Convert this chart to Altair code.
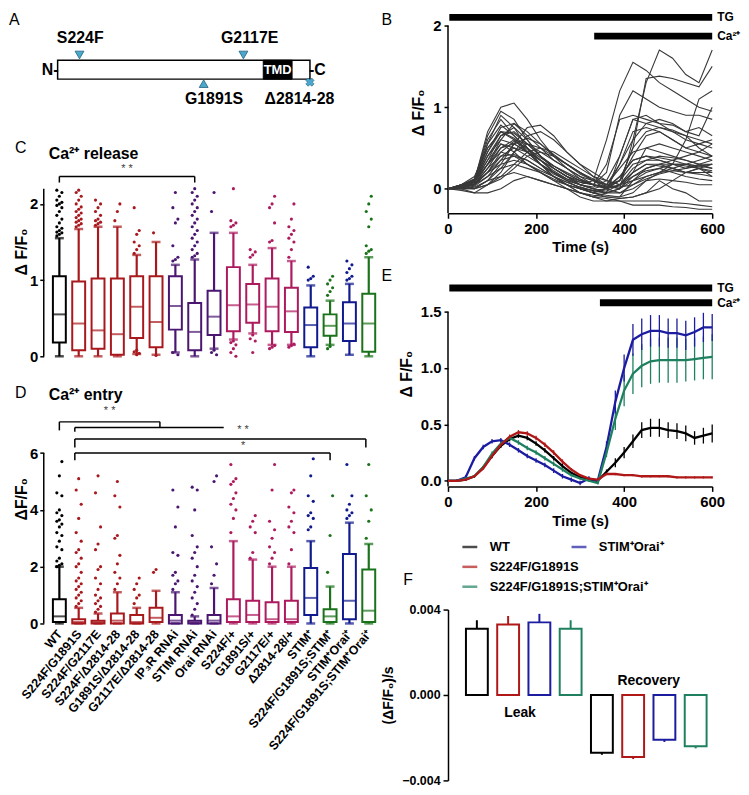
import json
import altair as alt
import pandas as pd

FONT = "Liberation Sans"

# ---------------- Panel A : protein schematic ----------------
a_mut_names = ["S224F", "G2117E", "G1891S", "Δ2814-28"]
a_mut_pos = [247, 2090, 1643, 2838]
a_mut_side = [1, 1, -1, -1]
a_mut_shape = ["triangle-down", "triangle-down", "triangle-up", "cross"]
a_label_pos = [255, 2160, 1760, 2720]
a_protein = [1, 2838]
a_tmd = [2313, 2637]

# ---------------- Panels C / D : box plots ----------------
names = ["WT", "S224F/G1891S", "S224F/G2117E", "S224F/Δ2814-28", "G1891S/Δ2814-28",
         "G2117E/Δ2814-28", "IP₃R RNAi", "STIM RNAi", "Orai RNAi", "S224F/+", "G1891S/+",
         "G2117E/+", "Δ2814-28/+", "STIM⁺", "S224F/G1891S;STIM⁺", "STIM⁺Orai⁺",
         "S224F/G1891S;STIM⁺Orai⁺"]
groups = ["wt", "mut", "mut", "mut", "mut", "mut", "rnai", "rnai", "rnai",
          "het", "het", "het", "het", "stim", "rescue", "stim", "rescue"]
grp_keys = ["wt", "mut", "rnai", "het", "stim", "rescue"]
grp_colors = ["#000000", "#a8191e", "#4a1670", "#ad1a5e", "#101a8e", "#1a721a"]

c_q1 = [0.18, 0.08, 0.10, 0.02, 0.24, 0.12, 0.35, 0.08, 0.28, 0.33, 0.44, 0.33, 0.32, 0.12, 0.27, 0.20, 0.06]
c_med = [0.55, 0.43, 0.34, 0.29, 0.65, 0.45, 0.66, 0.32, 0.52, 0.67, 0.68, 0.65, 0.59, 0.41, 0.40, 0.43, 0.43]
c_q3 = [1.05, 0.98, 1.02, 1.02, 1.05, 1.05, 1.05, 0.70, 0.86, 1.17, 0.95, 1.02, 0.90, 0.64, 0.55, 0.71, 0.82]
c_lo = [0.0, 0.0, 0.0, 0.0, 0.03, 0.02, 0.05, 0.0, 0.10, 0.22, 0.30, 0.15, 0.15, 0.0, 0.15, 0.02, 0.0]
c_hi = [1.55, 1.67, 1.70, 1.70, 1.33, 1.50, 1.20, 1.27, 1.62, 1.62, 1.20, 1.42, 1.25, 0.93, 0.73, 0.95, 1.30]
c_out = [
    [1.58, 1.6, 1.62, 1.63, 1.65, 1.68, 1.7, 1.75, 1.8, 1.85, 1.9, 1.95, 1.98, 2.0, 2.02, 2.05, 2.1, 2.15, 2.18],
    [1.7, 1.72, 1.74, 1.76, 1.78, 1.8, 1.82, 1.85, 1.88, 1.9, 1.93, 1.96, 2.0, 2.05, 2.1, 2.15, 2.18],
    [1.72, 1.74, 1.76, 1.78, 1.8, 1.85, 1.9, 1.95, 2.0, 2.05],
    [1.78, 1.9, 2.0],
    [1.35, 1.4, 1.45, 1.5, 1.6, 1.65, 1.95, 0.02, 0.04, 0.06, 0.08],
    [1.62, 0.01],
    [1.25, 1.27, 1.3, 1.45, 1.75, 1.8, 1.95, 2.15, 0.02, 0.05],
    [1.3, 1.32, 1.35, 1.4, 1.45, 1.5, 1.55, 1.6, 1.65, 1.7, 1.75, 1.8, 1.85, 1.9, 1.95, 2.0, 2.05, 2.1, 2.15, 2.2],
    [1.9, 2.15, 0.02, 0.05, 0.08],
    [1.7, 1.72, 1.75, 1.78, 2.2, 0.0, 0.05, 0.1, 0.15, 0.18, 0.2],
    [1.3, 1.33, 1.37, 1.4, 0.05, 0.2, 0.23, 0.28],
    [1.5, 1.52, 1.75, 1.95, 2.0, 2.1, 0.1, 0.12, 0.14],
    [1.3, 1.4, 1.5, 1.55, 1.6, 1.65, 1.7, 1.8, 2.0, 0.12, 0.14, 0.16],
    [1.0, 1.02, 1.05, 1.17],
    [0.8, 0.85, 0.9, 0.95, 1.0, 1.05, 0.1, 0.13],
    [1.0, 1.02, 1.05, 1.1, 1.15, 1.2, 1.25],
    [1.35, 1.38, 1.4, 1.45, 1.7, 1.8, 1.9, 2.0, 2.1],
]

d_q1 = [0.05, 0.0, 0.0, 0.0, 0.0, 0.05, 0.0, 0.0, 0.0, 0.05, 0.05, 0.05, 0.05, 0.30, 0.05, 0.15, 0.05]
d_med = [0.25, 0.05, 0.05, 0.10, 0.05, 0.20, 0.10, 0.05, 0.10, 0.25, 0.30, 0.15, 0.15, 0.90, 0.25, 0.80, 0.45]
d_q3 = [0.85, 0.15, 0.10, 0.35, 0.30, 0.55, 0.30, 0.10, 0.30, 0.85, 0.80, 0.75, 0.80, 1.95, 0.50, 2.45, 1.90]
d_lo = [0.0, 0.0, 0.0, 0.0, 0.0, 0.0, 0.0, 0.0, 0.0, 0.0, 0.0, 0.0, 0.0, 0.0, 0.0, 0.0, 0.0]
d_hi = [2.0, 0.55, 0.35, 1.10, 0.55, 1.15, 1.10, 0.25, 1.25, 2.90, 2.25, 2.00, 2.00, 2.90, 1.30, 3.55, 2.80]
d_out = [
    [2.0, 2.05, 2.1, 2.2, 2.3, 2.6, 2.7, 2.9, 3.1, 3.2, 3.4, 3.5, 3.6, 3.65, 3.8, 3.9, 4.0, 4.5, 4.6, 5.2, 5.7],
    [0.6, 0.7, 0.8, 0.9, 1.0, 1.1, 1.2, 1.3, 1.4, 1.5, 1.6, 1.8, 2.0, 2.1, 2.3, 2.5, 2.6, 2.9, 3.2, 3.7, 4.2, 4.7, 5.1],
    [0.4, 0.5, 0.6, 0.7, 0.8, 0.9, 1.0, 1.2, 1.4, 1.6, 1.9, 2.0, 2.6, 2.8, 3.4, 4.6, 5.2],
    [1.2, 1.4, 1.6, 1.8, 2.1, 2.4, 3.0, 3.1, 4.1, 4.5, 5.0],
    [0.7, 0.9, 1.0, 1.2, 1.4, 1.6],
    [1.8, 1.9],
    [1.2, 1.4, 1.5, 1.7, 1.8, 2.4, 2.5, 3.4, 4.1, 4.7],
    [0.3, 0.5, 0.7, 0.9, 1.1, 1.3, 1.5, 1.7, 2.0, 2.3, 2.5, 2.7, 3.1, 4.0, 4.7, 4.8],
    [1.4, 1.7, 2.1, 2.7, 5.0, 5.2],
    [3.2, 3.7, 4.0, 4.2, 4.4, 4.6, 4.9, 5.0, 5.1, 5.6],
    [2.3, 2.5, 3.2, 3.4, 3.6, 3.8],
    [2.1, 2.3, 2.5, 2.7, 3.0, 3.3, 3.6, 4.7, 5.6],
    [2.1, 2.6, 3.2, 3.4, 3.6, 3.9, 4.1, 4.6, 4.7],
    [3.3, 3.4, 3.7, 3.8, 3.9, 4.3, 4.5, 5.2, 5.8],
    [1.8, 3.1, 4.5],
    [3.7, 3.8, 3.9, 4.0, 4.2, 4.5, 5.6],
    [3.0, 3.6, 4.0, 4.5, 5.6],
]

# ---------------- Panel B : single-cell traces ----------------
b_time = [0, 30, 60, 90, 120, 150, 180, 210, 240, 270, 300, 330, 360, 390, 420, 450, 480, 510, 540, 570, 600]
b_traces = [
    [0, 0.03, 0.08, 0.55, 0.9, 0.75, 0.5, 0.3, 0.18, 0.1, 0.05, 0.1, 0.6, 1.2, 1.55, 1.45, 1.3, 1.2, 1.1, 1.0, 0.95],
    [0, 0.02, 0.1, 0.7, 1.0, 1.05, 0.85, 0.6, 0.4, 0.25, 0.12, 0.05, 0.2, 0.9, 1.2, 1.1, 1.0, 0.95, 0.9, 0.9, 0.85],
    [0, 0.05, 0.05, 0.3, 0.6, 0.8, 0.7, 0.55, 0.4, 0.3, 0.2, 0.1, 0.05, 0.0, 0.6, 1.3, 1.7, 1.6, 1.4, 1.3, 1.7],
    [0, 0.02, 0.0, 0.1, 0.3, 0.55, 0.75, 0.78, 0.65, 0.45, 0.3, 0.15, 0.05, 0.1, 0.5, 1.35, 1.38, 1.35, 1.3, 1.25, 1.5],
    [0, 0.05, 0.15, 0.5, 0.7, 0.6, 0.45, 0.3, 0.15, 0.05, -0.05, -0.1, -0.05, 0.4, 0.85, 0.8, 0.75, 0.7, 0.65, 0.5, 0.4],
    [0, 0.03, 0.1, 0.4, 0.65, 0.75, 0.6, 0.4, 0.25, 0.15, 0.05, 0.0, 0.05, 0.3, 0.7, 0.75, 0.7, 0.6, 0.5, 0.55, 0.6],
    [0, 0.0, -0.05, 0.05, 0.2, 0.45, 0.65, 0.7, 0.6, 0.45, 0.3, 0.2, 0.1, 0.05, 0.2, 0.5, 0.55, 0.5, 0.45, 0.4, 0.35],
    [0, 0.02, 0.08, 0.3, 0.5, 0.55, 0.45, 0.3, 0.2, 0.1, 0.0, -0.05, -0.1, -0.1, 0.1, 0.25, 0.3, 0.3, 0.25, 0.3, 0.3],
    [0, 0.05, 0.12, 0.6, 0.85, 0.65, 0.45, 0.3, 0.15, 0.05, 0.0, -0.05, 0.0, 0.3, 0.6, 0.8, 0.85, 0.8, 0.7, 0.65, 1.0],
    [0, 0.0, 0.05, 0.2, 0.4, 0.5, 0.45, 0.35, 0.25, 0.15, 0.05, 0.0, -0.05, 0.0, 0.2, 0.3, 0.3, 0.25, 0.2, 0.25, 0.2],
    [0, 0.03, 0.1, 0.35, 0.55, 0.45, 0.3, 0.2, 0.1, 0.0, -0.1, -0.15, -0.15, -0.12, -0.1, -0.05, 0.0, 0.1, 0.2, 0.25, 0.3],
    [0, -0.02, -0.05, -0.05, 0.0, 0.1, 0.15, 0.1, 0.05, 0.0, -0.05, -0.1, -0.12, -0.15, -0.15, -0.15, -0.15, -0.17, -0.18, -0.2, -0.22],
    [0, 0.0, 0.0, 0.1, 0.15, 0.2, 0.15, 0.1, 0.05, 0.0, -0.05, -0.08, -0.1, -0.12, -0.1, -0.05, 0.1, 0.0, -0.05, -0.15, -0.15],
    [0, 0.05, 0.1, 0.45, 0.75, 0.8, 0.65, 0.5, 0.35, 0.25, 0.15, 0.1, 0.05, 0.25, 0.45, 0.5, 0.45, 0.4, 0.35, 0.3, 0.25],
    [0, 0.02, 0.05, 0.25, 0.5, 0.6, 0.55, 0.45, 0.35, 0.25, 0.15, 0.05, 0.0, 0.05, 0.2, 0.3, 0.28, 0.25, 0.2, 0.2, 0.2],
    [0, 0.04, 0.12, 0.55, 0.78, 0.65, 0.5, 0.35, 0.2, 0.1, 0.05, 0.02, 0.1, 0.4, 0.85, 0.9, 0.8, 0.7, 0.6, 0.55, 0.5],
    [0, 0.02, 0.06, 0.2, 0.35, 0.4, 0.35, 0.25, 0.15, 0.05, -0.05, -0.1, -0.15, -0.15, -0.2, -0.2, -0.2, -0.22, -0.23, -0.25, -0.25],
    [0, 0.03, 0.08, 0.4, 0.6, 0.55, 0.45, 0.35, 0.25, 0.15, 0.1, 0.05, 0.02, 0.1, 0.3, 0.35, 0.35, 0.3, 0.3, 0.25, 0.15],
    [0, 0.01, 0.0, 0.05, 0.15, 0.3, 0.45, 0.5, 0.45, 0.35, 0.25, 0.15, 0.1, 0.05, 0.15, 0.25, 0.3, 0.35, 0.4, 0.45, 0.55],
    [0, 0.05, 0.1, 0.3, 0.45, 0.4, 0.3, 0.2, 0.1, 0.05, 0.0, -0.02, 0.0, 0.15, 0.35, 0.4, 0.38, 0.35, 0.3, 0.28, 0.25],
    [0, 0.02, 0.05, 0.2, 0.3, 0.35, 0.3, 0.22, 0.15, 0.08, 0.02, -0.02, -0.05, -0.05, 0.05, 0.15, 0.2, 0.22, 0.2, 0.18, 0.15],
    [0, 0.03, 0.1, 0.5, 0.7, 0.68, 0.55, 0.4, 0.28, 0.18, 0.1, 0.05, 0.0, 0.1, 0.4, 0.65, 0.7, 0.6, 0.5, 0.45, 0.4],
    [0, 0.0, 0.02, 0.1, 0.25, 0.45, 0.55, 0.5, 0.4, 0.3, 0.2, 0.12, 0.05, 0.02, 0.05, 0.12, 0.18, 0.22, 0.25, 0.28, 0.3],
    [0, 0.02, 0.05, 0.15, 0.25, 0.3, 0.25, 0.2, 0.12, 0.05, 0.0, -0.05, -0.08, -0.1, -0.05, 0.1, 0.12, 0.1, 0.08, 0.05, 0.05],
    [0, 0.04, 0.1, 0.65, 0.95, 0.85, 0.6, 0.4, 0.25, 0.15, 0.08, 0.05, 0.3, 0.85, 0.9, 0.85, 0.8, 0.78, 0.7, 0.75, 0.65],
    [0, 0.02, 0.08, 0.35, 0.65, 0.7, 0.55, 0.4, 0.28, 0.18, 0.1, 0.05, 0.02, 0.15, 0.35, 0.4, 0.35, 0.3, 0.3, 0.28, 0.3],
    [0, 0.01, 0.03, 0.15, 0.35, 0.55, 0.62, 0.55, 0.42, 0.3, 0.18, 0.1, 0.03, 0.0, 0.1, 0.2, 0.25, 0.3, 0.28, 0.25, 0.22],
    [0, 0.03, 0.1, 0.45, 0.7, 0.62, 0.48, 0.35, 0.22, 0.12, 0.05, 0.0, -0.03, 0.05, 0.25, 0.35, 0.4, 0.38, 0.35, 0.3, 0.35],
    [0, 0.0, 0.0, 0.05, 0.12, 0.25, 0.4, 0.45, 0.4, 0.3, 0.2, 0.1, 0.0, -0.05, 0.0, 0.1, 0.2, 0.25, 0.3, 0.35, 0.4],
    [0, 0.02, 0.06, 0.25, 0.4, 0.42, 0.35, 0.25, 0.15, 0.08, 0.02, -0.03, -0.05, 0.0, 0.15, 0.22, 0.25, 0.2, 0.15, 0.12, 0.1],
    [0, 0.03, 0.08, 0.3, 0.55, 0.5, 0.4, 0.3, 0.2, 0.12, 0.08, 0.05, 0.0, 0.05, 0.1, 0.15, 0.2, 0.3, 0.6, 1.1, 1.2],
    [0, 0.02, 0.05, 0.2, 0.45, 0.58, 0.5, 0.38, 0.28, 0.2, 0.12, 0.05, 0.02, 0.1, 0.5, 0.7, 0.75, 0.72, 0.65, 0.6, 0.55],
]

# ---------------- Panel E : mean traces ----------------
e_time = [0, 20, 40, 60, 80, 100, 120, 140, 160, 180, 200, 220, 240, 260, 280, 300,
          320, 340, 360, 380, 400, 420, 440, 460, 480, 500, 520, 540, 560, 580, 600]
e_series = ["WT", "S224F/G1891S", "S224F/G1891S;STIM⁺Orai⁺", "STIM⁺Orai⁺"]
e_colors = ["#000000", "#b01818", "#1f8060", "#1c1ca0"]
e_wt = [0, 0, 0.01, 0.04, 0.12, 0.22, 0.31, 0.37, 0.40, 0.38, 0.33, 0.27, 0.20, 0.13, 0.07, 0.03,
        0.01, 0.0, 0.08, 0.16, 0.25, 0.35, 0.45, 0.47, 0.47, 0.45, 0.44, 0.42, 0.38, 0.40, 0.42]
e_wt_sem = [0.01, 0.01, 0.01, 0.01, 0.01, 0.02, 0.02, 0.02, 0.02, 0.02, 0.02, 0.02, 0.02, 0.02, 0.01, 0.01,
            0.01, 0.01, 0.02, 0.04, 0.05, 0.06, 0.07, 0.08, 0.08, 0.07, 0.07, 0.07, 0.06, 0.07, 0.08]
e_mut = [0, 0, 0.01, 0.04, 0.11, 0.22, 0.32, 0.39, 0.43, 0.42, 0.38, 0.32, 0.25, 0.17, 0.10, 0.05,
         0.02, 0.01, 0.06, 0.06, 0.05, 0.05, 0.04, 0.04, 0.04, 0.04, 0.03, 0.03, 0.03, 0.03, 0.03]
e_mut_sem = [0.0, 0.01, 0.01, 0.01, 0.01, 0.01, 0.02, 0.02, 0.02, 0.02, 0.02, 0.02, 0.02, 0.02, 0.01, 0.01,
             0.01, 0.01, 0.01, 0.01, 0.01, 0.01, 0.01, 0.01, 0.01, 0.01, 0.01, 0.01, 0.01, 0.01, 0.01]
e_resc = [0, 0, 0.02, 0.04, 0.12, 0.24, 0.33, 0.38, 0.34, 0.29, 0.25, 0.20, 0.15, 0.10, 0.05, 0.02,
          0.0, -0.02, 0.25, 0.55, 0.8, 0.95, 1.02, 1.06, 1.07, 1.07, 1.07, 1.07, 1.08, 1.09, 1.10]
e_resc_sem = [0.0, 0.01, 0.01, 0.01, 0.01, 0.02, 0.02, 0.02, 0.02, 0.02, 0.02, 0.02, 0.02, 0.02, 0.01, 0.01,
              0.01, 0.01, 0.04, 0.1, 0.14, 0.18, 0.19, 0.2, 0.2, 0.2, 0.2, 0.19, 0.19, 0.19, 0.2]
e_so = [0, 0, 0.03, 0.2, 0.3, 0.35, 0.36, 0.32, 0.27, 0.22, 0.18, 0.14, 0.09, 0.04, 0.01, -0.02,
        0.02, 0.0, 0.3, 0.7, 1.0, 1.25, 1.3, 1.33, 1.33, 1.31, 1.31, 1.29, 1.32, 1.36, 1.36]
e_so_sem = [0.0, 0.01, 0.02, 0.02, 0.02, 0.02, 0.02, 0.02, 0.02, 0.02, 0.02, 0.02, 0.02, 0.02, 0.02, 0.02,
            0.02, 0.02, 0.05, 0.1, 0.12, 0.14, 0.14, 0.14, 0.14, 0.13, 0.13, 0.13, 0.13, 0.13, 0.12]

# ---------------- Panel F : leak / recovery rates ----------------
f_idx = [1, 2, 3, 4, 5, 6, 7, 8]
f_series = ["WT", "S224F/G1891S", "STIM⁺Orai⁺", "S224F/G1891S;STIM⁺Orai⁺",
            "WT", "S224F/G1891S", "STIM⁺Orai⁺", "S224F/G1891S;STIM⁺Orai⁺"]
f_val = [0.0031, 0.0033, 0.0034, 0.0031, -0.0027, -0.0029, -0.0021, -0.0024]
f_err = [0.0004, 0.0004, 0.0004, 0.0004, 0.0001, 0.0001, 0.0001, 0.0001]

# legend rows
leg_labels = ["WT", "STIM⁺Orai⁺", "S224F/G1891S", "S224F/G1891S;STIM⁺Orai⁺"]
leg_col = [0, 1, 0, 0]
leg_row = [0, 0, 1, 2]

# one colour scale shared by every panel (concatenated charts share scales)
all_scale = alt.Scale(domain=grp_keys + e_series, range=grp_colors + e_colors)


def tdf(xs, ys, texts):
    return pd.DataFrame({"x": xs, "y": ys, "text": texts})


def yaxis(values, title, fmt=None, size=15, tpad=6, tsize=4, lpad=3):
    kw = dict(values=values, domain=False, tickSize=tsize, tickWidth=1.5, title=title,
              labelFontSize=size, titleFontSize=16, labelPadding=lpad, titlePadding=tpad, grid=False)
    if fmt:
        kw["format"] = fmt
    return alt.Axis(**kw)


# ======== Panel A ========
xa_s = alt.Scale(domain=[-155, 3642])
ya_s = alt.Scale(domain=[-3.19, 3.08])


def XA(f):
    return alt.X(f, scale=xa_s, axis=None)


def YA(f):
    return alt.Y(f, scale=ya_s, axis=None)


prot_df = pd.DataFrame({"x": [a_protein[0]], "x2": [a_protein[1]], "y": [-0.5], "y2": [0.5]})
tmd_df = pd.DataFrame({"x": [a_tmd[0]], "x2": [a_tmd[1]], "y": [-0.5], "y2": [0.5]})
mut_df = pd.DataFrame({"x": a_mut_pos, "side": a_mut_side, "shape": a_mut_shape,
                       "lx": a_label_pos, "name": a_mut_names})

a_rect = alt.Chart(prot_df).mark_rect(fill="white", stroke="black", strokeWidth=1.5).encode(
    x=XA("x:Q"), x2="x2:Q", y=YA("y:Q"), y2="y2:Q")
a_tmd_r = alt.Chart(tmd_df).mark_rect(fill="black", stroke="black").encode(
    x=XA("x:Q"), x2="x2:Q", y=YA("y:Q"), y2="y2:Q")
a_tmd_t = alt.Chart(tdf([(a_tmd[0] + a_tmd[1]) / 2], [0], ["TMD"])).mark_text(
    color="white", fontWeight="bold", fontSize=13).encode(x=XA("x:Q"), y=YA("y:Q"), text="text:N")
a_tri = alt.Chart(mut_df).transform_filter("datum.shape != 'cross'").transform_calculate(
    my="datum.side > 0 ? 0.78 : -0.74").mark_point(
    filled=True, size=80, color="#4aa8cc", stroke="#24607c", strokeWidth=0.8, opacity=1).encode(
    x=XA("x:Q"), y=YA("my:Q"), shape=alt.Shape("shape:N", scale=None))
a_cross = alt.Chart(mut_df).transform_filter("datum.shape == 'cross'").transform_calculate(
    my="-0.66").mark_point(shape="cross", angle=45, filled=True, size=70, color="#4aa8cc",
                           stroke="#24607c", strokeWidth=0.6, opacity=1).encode(
    x=XA("x:Q"), y=YA("my:Q"))
a_lab = alt.Chart(mut_df).transform_calculate(ly="datum.side > 0 ? 1.66 : -1.58").mark_text(
    fontWeight="bold", fontSize=16).encode(x=XA("lx:Q"), y=YA("ly:Q"), text="name:N")
a_n = alt.Chart(tdf([a_protein[0]], [0], ["N-"])).mark_text(
    align="right", fontWeight="bold", fontSize=16, dx=1).encode(x=XA("x:Q"), y=YA("y:Q"), text="text:N")
a_c = alt.Chart(tdf([a_protein[1]], [0], ["-C"])).mark_text(
    align="left", fontWeight="bold", fontSize=16, dx=-1).encode(x=XA("x:Q"), y=YA("y:Q"), text="text:N")
a_letter = alt.Chart(tdf([-546], [2.66], ["A"])).mark_text(
    align="left", fontSize=16).encode(x=XA("x:Q"), y=YA("y:Q"), text="text:N")

panel_a = alt.layer(a_rect, a_tmd_r, a_tmd_t, a_tri, a_cross, a_lab, a_n, a_c, a_letter).properties(
    width=340, height=119)


# ======== Panels C & D ========
def box_panel(q1, med, q3, lo, hi, outs, ydom, height, yvals, ytitle, axis_top,
              xaxis, segs, stars, title_txt, title_y, letter, letter_y):
    xs = alt.Scale(domain=[0.45, 17.4])
    ys = alt.Scale(domain=ydom)
    yax = yaxis(yvals, ytitle, tpad=0, tsize=4, lpad=2)

    def X(f):
        return alt.X(f, scale=xs, axis=xaxis)

    def Y(f):
        return alt.Y(f, scale=ys, axis=yax)

    df = pd.DataFrame({"idx": list(range(1, 18)), "grp": groups, "q1": q1, "med": med,
                       "q3": q3, "lo": lo, "hi": hi})
    rows = []
    for i, vals in enumerate(outs):
        for k, v in enumerate(vals):
            rows.append({"idx": i + 1, "grp": groups[i], "val": v, "k": k})
    odf = pd.DataFrame(rows)
    col = alt.Color("grp:N", scale=all_scale, legend=None)
    base = alt.Chart(df)
    axis_line = alt.Chart(pd.DataFrame({"a": [0], "b": [axis_top]})).mark_rule(
        color="black", strokeWidth=1.5).encode(x=alt.value(0), y=Y("a:Q"), y2="b:Q")
    whisk = base.mark_rule(strokeWidth=2.2).encode(x=X("idx:Q"), y=Y("lo:Q"), y2="hi:Q", color=col)
    box = base.mark_bar(size=13, fill="white", strokeWidth=2).encode(
        x=X("idx:Q"), y=Y("q1:Q"), y2="q3:Q", stroke=alt.Stroke("grp:N", scale=all_scale, legend=None))
    medt = base.mark_tick(orient="horizontal", size=13, thickness=2).encode(
        x=X("idx:Q"), y=Y("med:Q"), color=col)
    caplo = base.mark_tick(orient="horizontal", size=9, thickness=2.5).encode(
        x=X("idx:Q"), y=Y("lo:Q"), color=col)
    caphi = base.mark_tick(orient="horizontal", size=9, thickness=2.5).encode(
        x=X("idx:Q"), y=Y("hi:Q"), color=col)
    dots = alt.Chart(odf).transform_calculate(
        xj="datum.idx + ((datum.k % 3) - 1) * 0.13").mark_circle(size=10, opacity=1).encode(
        x=X("xj:Q"), y=Y("val:Q"), color=col)
    seg_df = pd.DataFrame(segs, columns=["x", "y", "x2", "y2"])
    brk = alt.Chart(seg_df).mark_rule(color="black", strokeWidth=1.5).encode(
        x=X("x:Q"), y=Y("y:Q"), x2="x2:Q", y2="y2:Q")
    st = alt.Chart(pd.DataFrame(stars, columns=["x", "y", "text"])).mark_text(
        fontSize=11, color="#444444").encode(x=X("x:Q"), y=Y("y:Q"), text="text:N")
    ttl = alt.Chart(tdf([0.45], [title_y], [title_txt])).mark_text(
        align="left", fontSize=16, fontWeight="bold").encode(x=X("x:Q"), y=Y("y:Q"), text="text:N")
    let = alt.Chart(tdf([0.45 - 35 / 20.06], [letter_y], [letter])).mark_text(
        align="left", fontSize=16).encode(x=X("x:Q"), y=Y("y:Q"), text="text:N")
    return alt.layer(axis_line, whisk, box, medt, caplo, caphi, dots, brk, st, ttl, let).properties(
        width=340, height=height)


c_segs = [(1, 2.28, 1, 2.36), (1, 2.36, 8, 2.36), (8, 2.36, 8, 2.28)]
c_stars = [(4.5, 2.46, "* *")]
panel_c = box_panel(c_q1, c_med, c_q3, c_lo, c_hi, c_out, [0, 2.75], 211, [0, 1, 2], "Δ F/F₀", 2.2,
                    None, c_segs, c_stars, "Ca²⁺ release", 2.66, "C", 2.73)

label_expr = json.dumps(names) + "[datum.value - 1]"
d_xaxis = alt.Axis(values=list(range(1, 18)), labelExpr=label_expr, labelAngle=-50, labelAlign="right",
                   labelBaseline="middle", ticks=False, domain=False, labelPadding=8, labelFontSize=12.5,
                   labelOverlap=False, labelFlush=False, labelBound=False, title=None, grid=False)
d_segs = [(1, 6.8, 1, 7.1), (1, 7.1, 6.2, 7.1), (6.2, 7.1, 6.2, 6.9),
          (1.8, 6.75, 1.8, 6.9), (1.8, 6.9, 9.5, 6.9),
          (1.8, 6.2, 1.8, 6.5), (1.8, 6.5, 16.85, 6.5), (16.85, 6.5, 16.85, 6.2),
          (1.8, 5.75, 1.8, 6.0), (1.8, 6.0, 15.0, 6.0), (15.0, 6.0, 15.0, 5.75)]
d_stars = [(3.6, 7.48, "* *"), (10.5, 6.8, "* *"), (10.5, 6.26, "*")]
panel_d = box_panel(d_q1, d_med, d_q3, d_lo, d_hi, d_out, [0, 8.78], 251, [0, 2, 4, 6], "ΔF/F₀", 6,
                    d_xaxis, d_segs, d_stars, "Ca²⁺ entry", 8.05, "D", 8.12)

# ======== Panel B ========
xb_s = alt.Scale(domain=[0, 600])
time_axis = alt.Axis(values=[0, 200, 400, 600], title="Time (s)", tickSize=5, tickWidth=1.5,
                     domainWidth=1.5, labelFontSize=15, titleFontSize=15, labelPadding=3, grid=False,
                     labelFlush=False)


def XB(f):
    return alt.X(f, scale=xb_s, axis=time_axis)


yb_s = alt.Scale(domain=[-0.3, 2.17])
yb_ax = yaxis([0, 1, 2], "Δ F/F₀")


def YB(f):
    return alt.Y(f, scale=yb_s, axis=yb_ax)


b_rows = []
for ci, tr in enumerate(b_traces):
    for t, v in zip(b_time, tr):
        b_rows.append({"cell": ci, "t": t, "v": v})
b_df = pd.DataFrame(b_rows)
b_lines = alt.Chart(b_df).mark_line(strokeWidth=1.1, color="#383838").encode(
    x=XB("t:Q"), y=YB("v:Q"), detail="cell:N")
b_axis = alt.Chart(pd.DataFrame({"a": [-0.3], "b": [2]})).mark_rule(color="black", strokeWidth=1.5).encode(
    x=alt.value(0), y=YB("a:Q"), y2="b:Q")
b_bars_df = pd.DataFrame({"t0": [3, 332], "t1": [600, 600], "y": [2.1, 1.87], "text": ["TG", "Ca²⁺"]})
b_bars = alt.Chart(b_bars_df).mark_rule(color="black", strokeWidth=7).encode(
    x=XB("t0:Q"), x2="t1:Q", y=YB("y:Q"))
b_bar_txt = alt.Chart(b_bars_df).mark_text(align="left", dx=5, fontSize=12, fontWeight="bold").encode(
    x=XB("t1:Q"), y=YB("y:Q"), text="text:N")
b_letter = alt.Chart(tdf([-151], [2.07], ["B"])).mark_text(align="left", fontSize=16).encode(
    x=XB("x:Q"), y=YB("y:Q"), text="text:N")
panel_b = alt.layer(b_axis, b_lines, b_bars, b_bar_txt, b_letter).properties(width=266, height=203)

# ======== Panel E ========
ye_s = alt.Scale(domain=[-0.05, 1.95])
ye_ax = yaxis([0, 0.5, 1, 1.5], "Δ F/F₀", fmt=".1f")


def YE(f):
    return alt.Y(f, scale=ye_s, axis=ye_ax)


e_rows = []
for s, vals, sems in zip(e_series, [e_wt, e_mut, e_resc, e_so], [e_wt_sem, e_mut_sem, e_resc_sem, e_so_sem]):
    for t, v, se in zip(e_time, vals, sems):
        e_rows.append({"series": s, "t": t, "v": v, "sem": se})
e_df = pd.DataFrame(e_rows)
e_col = alt.Color("series:N", scale=all_scale, legend=None)
e_err = alt.Chart(e_df).transform_calculate(lo="datum.v - datum.sem", hi="datum.v + datum.sem").mark_rule(
    strokeWidth=1.3).encode(x=XB("t:Q"), y=YE("lo:Q"), y2="hi:Q", color=e_col)
e_order = ["WT", "STIM⁺Orai⁺", "S224F/G1891S;STIM⁺Orai⁺", "S224F/G1891S"]
e_lines = alt.layer(*[
    alt.Chart(e_df).transform_filter(alt.datum.series == s).mark_line(strokeWidth=2.3).encode(
        x=XB("t:Q"), y=YE("v:Q"), color=e_col) for s in e_order])
e_axis = alt.Chart(pd.DataFrame({"a": [-0.05], "b": [1.5]})).mark_rule(color="black", strokeWidth=1.5).encode(
    x=alt.value(0), y=YE("a:Q"), y2="b:Q")
e_bars_df = pd.DataFrame({"t0": [3, 345], "t1": [600, 600], "y": [1.71, 1.58], "text": ["TG", "Ca²⁺"]})
e_bars = alt.Chart(e_bars_df).mark_rule(color="black", strokeWidth=7).encode(
    x=XB("t0:Q"), x2="t1:Q", y=YE("y:Q"))
e_bar_txt = alt.Chart(e_bars_df).mark_text(align="left", dx=5, fontSize=12, fontWeight="bold").encode(
    x=XB("t1:Q"), y=YE("y:Q"), text="text:N")
e_letter = alt.Chart(tdf([-151], [1.82], ["E"])).mark_text(align="left", fontSize=16).encode(
    x=XB("x:Q"), y=YE("y:Q"), text="text:N")
panel_e = alt.layer(e_axis, e_err, e_lines, e_bars, e_bar_txt, e_letter).properties(width=266, height=227)

# ======== Legend (for E) with letter F ========
xl_s = alt.Scale(domain=[-0.2, 2.22])
yl_s = alt.Scale(domain=[-0.65, 2.55], reverse=True)
leg_df = pd.DataFrame({"label": leg_labels, "col": leg_col, "row": leg_row})
l_col = alt.Color("label:N", scale=all_scale, legend=None)
l_ticks = alt.Chart(leg_df).mark_tick(orient="horizontal", size=15, thickness=2.5).encode(
    x=alt.X("col:Q", scale=xl_s, axis=None), y=alt.Y("row:Q", scale=yl_s, axis=None), color=l_col)
l_text = alt.Chart(leg_df).mark_text(align="left", dx=20, fontSize=13, fontWeight="bold").encode(
    x=alt.X("col:Q", scale=xl_s, axis=None), y=alt.Y("row:Q", scale=yl_s, axis=None), text="label:N")
l_letter = alt.Chart(tdf([-0.61], [1.65], ["F"])).mark_text(align="left", fontSize=16).encode(
    x=alt.X("x:Q", scale=xl_s, axis=None), y=alt.Y("y:Q", scale=yl_s, axis=None), text="text:N")
panel_leg = alt.layer(l_ticks, l_text, l_letter).properties(width=266, height=64)

# ======== Panel F ========
xf_s = alt.Scale(domain=[0.235, 8.37])
yf_s = alt.Scale(domain=[-0.004, 0.004])
yf_ax = alt.Axis(values=[-0.004, 0, 0.004], format=".3f", title="(ΔF/F₀)/s", tickSize=5, tickWidth=1.5,
                 domainWidth=1.5, labelFontSize=12.5, titleFontSize=14, labelPadding=3, titlePadding=6,
                 grid=False)


def XF(f):
    return alt.X(f, scale=xf_s, axis=None)


def YF(f):
    return alt.Y(f, scale=yf_s, axis=yf_ax)


f_df = pd.DataFrame({"idx": f_idx, "series": f_series, "val": f_val, "err": f_err})
f_col = alt.Color("series:N", scale=all_scale, legend=None)
f_errb = alt.Chart(f_df).transform_calculate(
    tip="datum.val + (datum.val > 0 ? datum.err : -datum.err)").mark_rule(strokeWidth=2).encode(
    x=XF("idx:Q"), y=YF("val:Q"), y2="tip:Q", color=f_col)
f_bars = alt.Chart(f_df).transform_calculate(zero="0").mark_bar(size=22, fill="white", strokeWidth=2).encode(
    x=XF("idx:Q"), y=YF("zero:Q"), y2="val:Q", stroke=alt.Stroke("series:N", scale=all_scale, legend=None))
f_txt = alt.Chart(tdf([2.38, 6.5], [-0.00085, 0.00065], ["Leak", "Recovery"])).mark_text(
    fontSize=14, fontWeight="bold").encode(x=XF("x:Q"), y=YF("y:Q"), text="text:N")
panel_f = alt.layer(f_errb, f_bars, f_txt).properties(width=266, height=172)

left = alt.vconcat(panel_a, panel_c, panel_d, spacing=10)
right = alt.vconcat(panel_b, panel_e, panel_leg, panel_f, spacing=6)
chart = alt.hconcat(left, right, spacing=0).properties(padding=0).configure(font=FONT, padding=0).configure_view(
    stroke=None).configure_axis(labelFont=FONT, titleFont=FONT, labelFontWeight="bold",
                                titleFontWeight="bold", labelColor="black", titleColor="black",
                                domainColor="black", tickColor="black").configure_text(font=FONT)

chart.save("out.html", embed_options={"renderer": "svg", "actions": False})
